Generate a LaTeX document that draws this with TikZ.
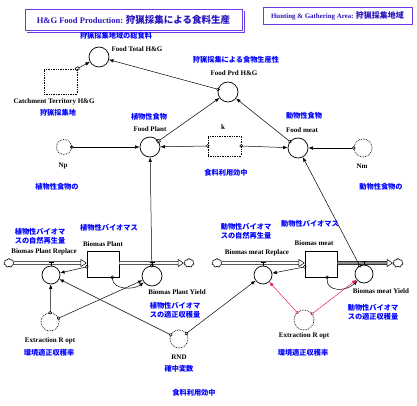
\documentclass[tikz,border=0pt]{standalone}
\usepackage{fontspec}
\setmainfont{Liberation Serif}
\newfontfamily\jp{Noto Sans CJK JP}
\usetikzlibrary{arrows.meta,shapes.symbols}

\definecolor{jblue}{RGB}{0,0,255}
\definecolor{boxviolet}{RGB}{110,60,230}
\definecolor{titleblue}{RGB}{40,20,190}
\definecolor{linkred}{RGB}{240,20,100}

\tikzstyle{aux}=[circle,draw,line width=0.7pt,minimum size=20pt,inner sep=0pt]
\tikzstyle{shadowvar}=[circle,draw,densely dotted,line width=0.7pt,minimum size=18pt,inner sep=0pt]
\tikzstyle{stock}=[rectangle,draw,line width=0.7pt,minimum width=32pt,minimum height=26pt]
\tikzstyle{sink}=[cloud,draw,cloud puffs=7,line width=0.6pt,minimum width=10pt,minimum height=9pt,inner sep=0pt]
\tikzstyle{pipe}=[draw,double,double distance=2.6pt,line width=0.5pt]
\tikzstyle{link}=[draw,line width=0.5pt,shorten <=-1.8pt,{Circle[open,length=3.5pt]}-{Latex[length=4.5pt,width=3.5pt]}]
\tikzstyle{square link}=[link,{Square[open,length=3.5pt]}-{Latex[length=4.5pt,width=3.5pt]}]
\tikzstyle{red link}=[link,draw=linkred]
\tikzstyle{jtext}=[font=\jp\bfseries\fontsize{7.2}{8.8}\selectfont,text=jblue,inner sep=0pt,align=center]
\tikzstyle{etext}=[font=\bfseries\fontsize{7}{8}\selectfont,inner sep=0pt]

\begin{document}
\begin{tikzpicture}[x=1pt,y=-1pt]
\useasboundingbox (0,0) rectangle (417,406);
% title boxes
\node[draw=boxviolet,line width=0.8pt,minimum width=217pt,minimum height=21pt,inner sep=0pt,text=titleblue] (title) at (133.5,19.5)
  {{\bfseries\fontsize{8.5}{10}\selectfont H\&G Food Production: }{\jp\bfseries\fontsize{9.5}{10}\selectfont 狩猟採集による食料生産}};
\draw[boxviolet,line width=0.8pt] ([shift={(1.6pt,-2pt)}]title.north east) |- ([shift={(2pt,-1.6pt)}]title.south west);
\node[draw=boxviolet,line width=0.7pt,minimum width=149pt,minimum height=17pt,inner sep=0pt,text=titleblue] (area) at (337.5,15.5)
  {{\bfseries\fontsize{6.9}{8}\selectfont Hunting \& Gathering Area: }{\jp\bfseries\fontsize{8}{9}\selectfont 狩猟採集地域}};

% food sector
\node[aux] (foodtotal) at (99,57) {};
\node[aux] (foodprd) at (228,92) {};
\node[aux] (foodplant) at (150,147) {};
\node[aux] (foodmeat) at (298,148) {};
\node[shadowvar,minimum size=15pt] (np) at (64,147) {};
\node[shadowvar] (nm) at (363,148) {};
\node[draw,densely dotted,line width=0.7pt,minimum width=33pt,minimum height=25pt] (catch) at (60.5,81.5) {};
\node[draw,densely dotted,line width=0.7pt,minimum width=33pt,minimum height=20pt] (k) at (224.5,146) {};

% biomass sector
\node[stock] (plantbox) at (103,264) {};
\node[stock] (meatbox) at (321,264) {};
\node[sink] (plantsrc) at (9,263) {};
\node[sink] (plantsnk) at (189,263) {};
\node[sink] (meatsrc) at (217,263) {};
\node[sink] (meatsnk) at (398,263) {};
\node[aux,minimum size=18pt] (plantrep) at (51,275) {};
\node[aux] (plantyield) at (152,276) {};
\node[aux,minimum size=18pt] (meatrep) at (263,275) {};
\node[aux,minimum size=18pt] (meatyield) at (364,274) {};
\node[shadowvar] (plantext) at (50,322) {};
\node[shadowvar] (rnd) at (179,339) {};
\node[shadowvar,minimum size=20pt] (meatext) at (304,320) {};

% pipes and valves
\draw[pipe,-{Triangle[open,length=6pt,width=8pt]}] (plantsrc) -- (plantsrc -| plantbox.west);
\draw[pipe,-{Triangle[open,length=6pt,width=8pt]}] (plantsnk -| plantbox.east) -- (plantsnk);
\draw[pipe,-{Triangle[open,length=6pt,width=8pt]}] (meatsrc) -- (meatsrc -| meatbox.west);
\draw[pipe,double=black!45,-{Triangle[open,length=6pt,width=8pt]}] (meatsnk -| meatbox.east) -- (meatsnk);
\foreach \v in {plantrep,plantyield,meatrep,meatyield}
  \draw[line width=0.5pt] (\v.north) -- ++(0,-3) ++(-2.5,0) -- ++(5,0);

% connectors
\foreach \source/\dest in {foodprd/foodtotal, foodmeat/foodprd, np/foodplant, k.west/foodplant, k.east/foodmeat,
  nm/foodmeat, plantyield/foodplant, meatyield/foodmeat, plantext/plantrep, plantext/plantyield, rnd/plantrep, rnd/meatrep,
  plantbox.-170/plantrep, meatbox.-170/meatrep}
  \path[link] (\source) to (\dest);
\path[square link] (catch.north east) to (foodtotal);
\path[square link] (foodplant) to (foodprd);
\path[link] (plantbox.-55) .. controls (113,290) and (134,290) .. (plantyield);
\path[link] (meatbox.-65) .. controls (326,292) and (346,292) .. (meatyield);
\foreach \dest in {meatrep,meatyield}
  \path[red link] (meatext) to (\dest);

% labels
\node[jtext] (jfoodtotal) at (116,36) {狩猟採集地域の総食料};
\node[etext] (efoodtotal) at (137,49) {Food Total H\&G};
\node[jtext] (jfoodprd) at (236,60) {狩猟採集による食物生産性};
\node[etext] (efoodprd) at (234,73) {Food Prd H\&G};
\node[etext] (ecatch) at (54,102) {Catchment Territory H\&G};
\node[jtext] (jcatch) at (58,113) {狩猟採集地};
\node[jtext] (jfoodplant) at (149,117) {植物性食物};
\node[etext] (efoodplant) at (150,129) {Food Plant};
\node[etext] (enp) at (63,166) {Np};
\node[etext] (ek) at (223,127) {k};
\node[jtext] (jk) at (226,173) {食料利用効中};
\node[jtext] (jfoodmeat) at (304,116) {動物性食物};
\node[etext] (efoodmeat) at (302,130) {Food meat};
\node[etext] (enm) at (362,166) {Nm};
\node[jtext] (jnoteplant) at (57,187) {植物性食物の};
\node[jtext] (jnotemeat) at (381,187) {動物性食物の};
\node[jtext] (jplantrep) at (40,236) {植物性バイオマ\\スの自然再生量};
\node[jtext] (jplantbox) at (109,228) {植物性バイオマス};
\node[etext] (eplantbox) at (103,244) {Biomas Plant};
\node[etext] (eplantrep) at (44,252) {Biomas Plant Replace};
\node[etext] (eplantyield) at (177,292) {Biomas Plant Yield};
\node[jtext] (jplantyield) at (175,310) {植物性バイオマ\\スの適正収穫量};
\node[etext] (eplantext) at (50,341) {Extraction R opt};
\node[jtext] (jplantext) at (49,353) {環境適正収穫率};
\node[etext] (ernd) at (179,357) {RND};
\node[jtext] (jrnd) at (179,369) {確中変数};
\node[jtext] (jbottom) at (194,393) {食料利用効中};
\node[jtext] (jmeatrep) at (246,231.5) {動物性バイオマ\\スの自然再生量};
\node[jtext] (jmeatbox) at (310,224) {動物性バイオマス};
\node[etext] (emeatbox) at (314,243) {Biomas meat};
\node[etext] (emeatrep) at (257,253) {Biomas meat Replace};
\node[etext] (emeatyield) at (381,291) {Biomas meat Yield};
\node[jtext] (jmeatyield) at (373,312.5) {動物性バイオマ\\スの適正収穫量};
\node[etext] (emeatext) at (304,336) {Extraction R opt};
\node[jtext] (jmeatext) at (303,353) {環境適正収穫率};
\end{tikzpicture}
\end{document}
